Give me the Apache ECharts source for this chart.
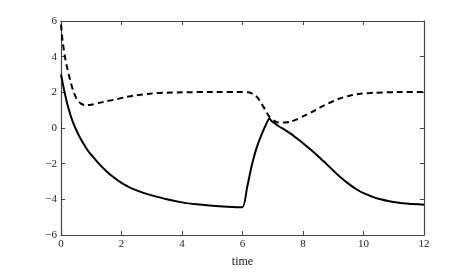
<!DOCTYPE html>
<html><head><meta charset="utf-8">
<script src="https://cdn.jsdelivr.net/npm/echarts@6/dist/echarts.min.js"></script>
<style>html,body{margin:0;padding:0;background:#fff}#c{width:469px;height:273px}</style>
</head><body><div id="c"></div>
<script>
const solidT = [0,0.1,0.2,0.3,0.4,0.5,0.6,0.75,0.9,1.0,1.25,1.5,1.75,2.0,2.25,2.5,2.75,3.0,3.5,4.0,4.5,5.0,5.5,6.0,6.15,6.3,6.45,6.6,6.75,6.89,6.95,7.07,7.2,7.4,7.6,7.84,8.0,8.23,8.5,8.75,9.0,9.25,9.5,9.75,10.0,10.5,11.0,11.5,12.0];
const solidY = [3.0,2.15,1.4,0.8,0.3,-0.1,-0.45,-0.9,-1.3,-1.5,-2.0,-2.42,-2.78,-3.08,-3.32,-3.5,-3.65,-3.78,-4.0,-4.17,-4.28,-4.36,-4.41,-4.44,-3.35,-2.15,-1.2,-0.5,0.1,0.55,0.4,0.26,0.1,-0.1,-0.33,-0.64,-0.85,-1.18,-1.58,-1.98,-2.38,-2.78,-3.12,-3.42,-3.65,-3.97,-4.15,-4.25,-4.3];
const dashT = [0,0.05,0.13,0.2,0.3,0.4,0.52,0.65,0.8,1.0,1.25,1.5,1.8,2.1,2.5,3.0,3.5,4.0,5.0,6.0,6.2,6.35,6.5,6.7,6.89,7.05,7.2,7.4,7.6,7.8,8.0,8.3,8.6,8.9,9.2,9.5,9.9,10.4,11.0,12.0];
const dashY = [5.8,4.9,4.0,3.4,2.7,2.1,1.62,1.38,1.28,1.3,1.4,1.5,1.6,1.72,1.84,1.94,1.98,2.0,2.02,2.02,2.0,1.9,1.7,1.17,0.63,0.4,0.31,0.31,0.36,0.48,0.65,0.9,1.18,1.43,1.65,1.8,1.92,1.98,2.01,2.02];
const xTicks = [0,2,4,6,8,10,12];
const yTicks = [-6,-4,-2,0,2,4,6];
const xName = 'time';

const font = 'Liberation Serif';
const axisCol = '#444';
const fmt = v => String(v).replace('-', '\u2212');
function xAx(pos, labels) {
  return {type:'value', position:pos, min:xTicks[0], max:xTicks[xTicks.length-1], interval:xTicks[1]-xTicks[0],
    name: labels ? xName : '', nameLocation:'middle', nameGap:21,
    nameTextStyle:{fontFamily:font, fontSize:12, color:'#222'},
    axisLine:{show:true, onZero:false, lineStyle:{color:axisCol, width:1.2}},
    axisTick:{show:true, inside:true, length:4, lineStyle:{color:axisCol}},
    axisLabel:{show:labels, margin:4, fontFamily:font, fontSize:11, color:'#222', formatter:fmt},
    splitLine:{show:false}};
}
function yAx(pos, labels) {
  return {type:'value', position:pos, min:yTicks[0], max:yTicks[yTicks.length-1], interval:yTicks[1]-yTicks[0],
    axisLine:{show:true, onZero:false, lineStyle:{color:axisCol, width:1.2}},
    axisTick:{show:true, inside:true, length:4, lineStyle:{color:axisCol}},
    axisLabel:{show:labels, margin:4, fontFamily:font, fontSize:11, color:'#222', formatter:fmt},
    splitLine:{show:false}};
}
const chart = echarts.init(document.getElementById('c'), null, {renderer:'canvas'});
chart.setOption({
  animation:false,
  grid:{left:61, right:45, top:21, bottom:31, containLabel:false},
  xAxis:[xAx('bottom', true), xAx('top', false)],
  yAxis:[yAx('left', true), yAx('right', false)],
  series:[
    {type:'line', data:solidT.map((t,i)=>[t, solidY[i]]), showSymbol:false, smooth:0.2,
      lineStyle:{color:'#000', width:2, type:'solid'}},
    {type:'line', data:dashT.map((t,i)=>[t, dashY[i]]), showSymbol:false, smooth:0.2,
      lineStyle:{color:'#000', width:2, type:[6,4]}}
  ]
});
</script></body></html>
